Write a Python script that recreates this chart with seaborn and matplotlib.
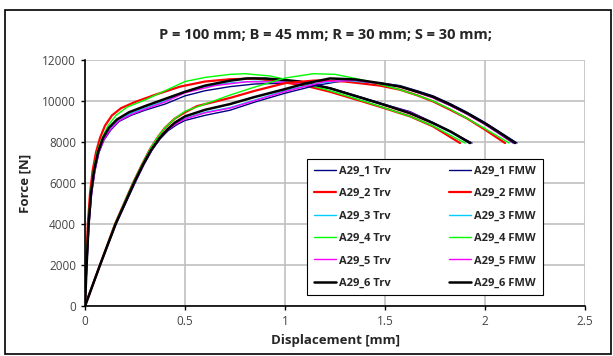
"""
Force vs displacement curves, A29 specimens (Trv and FMW)
"""

import numpy as np
import pandas as pd
import matplotlib
matplotlib.use("Agg")
import matplotlib.pyplot as plt
import matplotlib.patches as patches
import seaborn as sns

# Trv curves (steep initial rise)
t1_x = [0, 0.009, 0.02, 0.033, 0.05, 0.07, 0.095, 0.13, 0.17, 0.23, 0.3, 0.4, 0.5, 0.6, 0.725, 0.85, 1.0, 1.1, 1.225, 1.39, 1.5, 1.625, 1.74, 1.83, 1.935]
t1_y = [0, 2000, 4000, 5500, 6600, 7500, 8100, 8600, 9000, 9300, 9550, 9850, 10250, 10500, 10700, 10830, 10870, 10850, 10640, 10160, 9830, 9480, 8950, 8500, 7950]
t2_x = [0, 0.006, 0.014, 0.025, 0.038, 0.055, 0.075, 0.1, 0.135, 0.18, 0.25, 0.35, 0.475, 0.6, 0.725, 0.85, 1.0, 1.1, 1.225, 1.39, 1.5, 1.625, 1.74, 1.875]
t2_y = [0, 2000, 4000, 5500, 6600, 7500, 8200, 8800, 9300, 9650, 9950, 10300, 10700, 10950, 11060, 11100, 10900, 10750, 10450, 9970, 9640, 9250, 8760, 7950]
t3_x = [0, 0.008, 0.019, 0.032, 0.048, 0.068, 0.092, 0.125, 0.165, 0.225, 0.3, 0.4, 0.5, 0.6, 0.725, 0.85, 1.0, 1.1, 1.225, 1.39, 1.5, 1.625, 1.74, 1.83, 1.92]
t3_y = [0, 2000, 4000, 5500, 6600, 7500, 8150, 8650, 9050, 9380, 9650, 10000, 10450, 10700, 10880, 10960, 10930, 10860, 10600, 10100, 9780, 9430, 8900, 8450, 7950]
t4_x = [0, 0.007, 0.016, 0.028, 0.042, 0.06, 0.085, 0.115, 0.155, 0.21, 0.3, 0.4, 0.5, 0.6, 0.725, 0.8, 0.925, 1.05, 1.225, 1.39, 1.5, 1.625, 1.74, 1.9]
t4_y = [0, 2000, 4000, 5500, 6600, 7500, 8200, 8800, 9300, 9700, 10050, 10500, 10950, 11150, 11300, 11330, 11220, 10950, 10500, 10000, 9650, 9250, 8780, 7950]
t5_x = [0, 0.009, 0.02, 0.033, 0.049, 0.069, 0.094, 0.128, 0.168, 0.228, 0.3, 0.4, 0.5, 0.65, 0.81, 1.0, 1.1, 1.225, 1.39, 1.5, 1.625, 1.74, 1.83, 1.93]
t5_y = [0, 2000, 4000, 5500, 6600, 7500, 8120, 8620, 9020, 9330, 9600, 9950, 10400, 10750, 10940, 10920, 10850, 10620, 10130, 9800, 9450, 8920, 8480, 7950]
t6_x = [0, 0.008, 0.018, 0.03, 0.045, 0.065, 0.09, 0.12, 0.16, 0.22, 0.3, 0.4, 0.5, 0.6, 0.725, 0.81, 0.9, 1.0, 1.075, 1.225, 1.39, 1.5, 1.625, 1.74, 1.83, 1.925]
t6_y = [0, 2000, 4000, 5500, 6600, 7500, 8200, 8700, 9100, 9450, 9750, 10100, 10450, 10750, 10990, 11100, 11100, 11020, 10950, 10620, 10130, 9800, 9400, 8920, 8500, 7950]

# FMW curves (gradual initial rise)
f1_x = [0, 0.075, 0.155, 0.25, 0.295, 0.335, 0.375, 0.415, 0.46, 0.5, 0.6, 0.725, 0.85, 1.0, 1.15, 1.3, 1.475, 1.575, 1.66, 1.74, 1.83, 1.91, 2.0, 2.08, 2.16]
f1_y = [0, 2000, 4000, 6000, 6900, 7600, 8150, 8550, 8850, 9050, 9300, 9550, 9950, 10380, 10750, 11000, 10880, 10750, 10500, 10250, 9850, 9450, 8950, 8450, 7950]
f2_x = [0, 0.075, 0.15, 0.24, 0.285, 0.325, 0.365, 0.4, 0.45, 0.5, 0.56, 0.725, 0.85, 1.0, 1.15, 1.3, 1.475, 1.575, 1.66, 1.74, 1.83, 1.91, 2.0, 2.1]
f2_y = [0, 2000, 4000, 6000, 6900, 7650, 8250, 8700, 9150, 9450, 9750, 10150, 10500, 10870, 11000, 10950, 10750, 10550, 10280, 9980, 9550, 9150, 8600, 7950]
f3_x = [0, 0.075, 0.153, 0.247, 0.292, 0.332, 0.372, 0.41, 0.455, 0.5, 0.6, 0.725, 0.85, 1.0, 1.15, 1.3, 1.475, 1.575, 1.66, 1.74, 1.83, 1.91, 2.0, 2.07, 2.14]
f3_y = [0, 2000, 4000, 6000, 6900, 7620, 8180, 8600, 8920, 9150, 9450, 9680, 10050, 10500, 10850, 11000, 10860, 10720, 10450, 10180, 9780, 9380, 8880, 8420, 7950]
f4_x = [0, 0.075, 0.15, 0.24, 0.285, 0.325, 0.365, 0.4, 0.45, 0.5, 0.6, 0.725, 0.845, 1.0, 1.14, 1.25, 1.4, 1.575, 1.66, 1.74, 1.83, 1.91, 2.0, 2.12]
f4_y = [0, 2000, 4000, 6000, 6900, 7650, 8250, 8700, 9150, 9500, 9850, 10290, 10670, 11120, 11330, 11300, 11000, 10550, 10280, 10000, 9580, 9150, 8650, 7950]
f5_x = [0, 0.075, 0.154, 0.248, 0.293, 0.333, 0.373, 0.412, 0.457, 0.5, 0.6, 0.725, 0.85, 1.0, 1.2, 1.35, 1.475, 1.575, 1.66, 1.74, 1.83, 1.91, 2.0, 2.07, 2.14]
f5_y = [0, 2000, 4000, 6000, 6900, 7600, 8160, 8580, 8900, 9120, 9420, 9650, 10020, 10460, 10950, 11000, 10850, 10700, 10420, 10150, 9750, 9350, 8850, 8400, 7950]
f6_x = [0, 0.075, 0.153, 0.245, 0.29, 0.33, 0.37, 0.41, 0.45, 0.5, 0.6, 0.725, 0.85, 1.0, 1.1, 1.225, 1.35, 1.475, 1.575, 1.66, 1.74, 1.83, 1.91, 2.0, 2.08, 2.15]
f6_y = [0, 2000, 4000, 6000, 6900, 7600, 8150, 8600, 8950, 9250, 9570, 9850, 10200, 10580, 10850, 11100, 11050, 10870, 10700, 10450, 10200, 9800, 9400, 8900, 8400, 7950]

labels_trv = ["A29_1 Trv", "A29_2 Trv", "A29_3 Trv", "A29_4 Trv", "A29_5 Trv", "A29_6 Trv"]
labels_fmw = ["A29_1 FMW", "A29_2 FMW", "A29_3 FMW", "A29_4 FMW", "A29_5 FMW", "A29_6 FMW"]
colors = ["#000080", "#ff0000", "#00ccff", "#00ff00", "#ff00ff", "#000000"]
widths = [1.0, 1.6, 1.0, 1.0, 1.0, 1.8]

trv = [(t1_x, t1_y), (t2_x, t2_y), (t3_x, t3_y), (t4_x, t4_y), (t5_x, t5_y), (t6_x, t6_y)]
fmw = [(f1_x, f1_y), (f2_x, f2_y), (f3_x, f3_y), (f4_x, f4_y), (f5_x, f5_y), (f6_x, f6_y)]

sns.set_style("white")
plt.rcParams['font.family'] = ['Open Sans', 'DejaVu Sans']

fig = plt.figure(figsize=(6.13, 3.56), dpi=100)
ax = fig.add_axes([0.1387, 0.1404, 0.8157, 0.6911])

# grid first so curves sit on top
ax.set_axisbelow(True)
ax.grid(True, color="#c0c0c0", linewidth=1.2)

handles = []
for group, labels in ((trv, labels_trv), (fmw, labels_fmw)):
    for (xs, ys), lab, col, lw in zip(group, labels, colors, widths):
        df = pd.DataFrame({"x": xs, "y": ys})
        sns.lineplot(data=df, x="x", y="y", sort=False, estimator=None,
                     color=col, linewidth=lw, ax=ax, legend=False)
        handles.append(ax.lines[-1])

ax.set_xlim(0, 2.5)
ax.set_ylim(0, 12000)
ax.set_xticks([0, 0.5, 1, 1.5, 2, 2.5])
ax.set_xticklabels(["0", "0.5", "1", "1.5", "2", "2.5"])
ax.set_yticks(np.arange(0, 12001, 2000))
ax.tick_params(axis="both", labelsize=8.5, colors="#000000", labelcolor="#444444",
               length=3, width=1, direction="out", bottom=True, left=True)
for side in ("top", "right"):
    ax.spines[side].set_visible(False)
for side in ("left", "bottom"):
    ax.spines[side].set_color("black")
    ax.spines[side].set_linewidth(1.2)

ax.set_xlabel("Displacement [mm]", fontsize=9.5, fontweight="bold", labelpad=4)
ax.set_ylabel("Force [N]", fontsize=9.5, fontweight="bold", labelpad=8)

leg = ax.legend(handles=handles, labels=labels_trv + labels_fmw, ncol=2,
                loc="upper left", bbox_to_anchor=(0.444, 0.598), borderaxespad=0,
                prop={"weight": "bold", "size": 8},
                frameon=True, fancybox=False, framealpha=1, edgecolor="black",
                handlelength=2.0, labelspacing=1.03, columnspacing=5.2,
                borderpad=0.6, handletextpad=0.3)
leg.get_frame().set_linewidth(0.8)

fig.text(326 / 613, 1 - 35 / 356, "P = 100 mm; B = 45 mm; R = 30 mm; S = 30 mm;",
         ha="center", va="center", fontsize=10.5, fontweight="bold")

frame = patches.Rectangle((5 / 613, 2 / 356), 606 / 613, 344 / 356,
                          transform=fig.transFigure, fill=False,
                          edgecolor="black", linewidth=1.2)
fig.patches.append(frame)

fig.savefig("out.png", dpi=100, facecolor="white")
